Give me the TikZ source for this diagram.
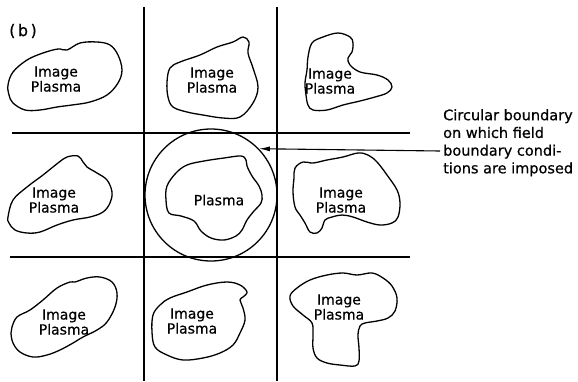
\documentclass[tikz,border=0pt]{standalone}
\usepackage{fontspec}
\setmainfont{DejaVu Sans}[FakeBold=0.6]
\usetikzlibrary{arrows.meta}
\begin{document}
\begin{tikzpicture}[x=1pt,y=-1pt,>={Latex[length=11pt,width=5pt]},
  blob/.style={line width=1.3pt, line join=round},
  gridline/.style={line width=1.3pt},
  plasmatext/.style={align=center, inner sep=0pt, font=\fontsize{14}{15}\selectfont}]
\useasboundingbox (0,0) rectangle (578,381);
% grid of cells
\draw[gridline] (144,7) -- (144,381);
\draw[gridline] (277,7) -- (277,381);
\draw[gridline] (12,133) -- (410,133);
\draw[gridline] (10,257) -- (410,257);
\node[plasmatext, font=\fontsize{16}{17}\selectfont] (tag) at (23,31) {(\hspace{2.5pt}b\hspace{2.5pt})};
% image plasmas
\draw[blob] plot[smooth cycle, tension=0.6] coordinates {(8,85) (13,72) (27,60) (43,53) (58,49) (67,50) (80,43) (97,42) (110,45) (118,55) (122,70) (118,83) (107,95) (90,102) (72,105) (57,107) (40,110) (25,110) (13,103) (9,95)};
\node[plasmatext] (p1) at (56,79) {Image\\Plasma};
\draw[blob] plot[smooth cycle, tension=0.6] coordinates {(167,82) (170,68) (180,62) (200,55) (217,47) (233,42) (243,37) (249,42) (248,53) (253,68) (258,87) (253,103) (240,117) (223,118) (203,115) (187,112) (173,107) (168,97)};
\node[plasmatext] (p2) at (212,80) {Image\\Plasma};
\draw[blob] plot[smooth cycle, tension=0.6] coordinates {(312,43) (323,37) (338,33) (350,37) (353,43) (352,52) (348,58) (350,65) (360,72) (377,75) (388,80) (392,87) (387,93) (375,97) (360,101) (343,105) (327,110) (313,110) (308,105) (306,95) (305,83) (307,70) (308,57)};
\node[plasmatext] (p3) at (330,81) {Image\\Plasma};
\draw[blob] plot[smooth cycle, tension=0.6] coordinates {(8,217) (13,200) (27,187) (43,175) (58,163) (67,157) (78,156) (83,162) (87,167) (97,173) (107,180) (112,192) (110,203) (103,212) (90,217) (73,220) (57,225) (40,232) (27,233) (15,230) (9,223)};
\node[plasmatext] (p4) at (54,200) {Image\\Plasma};
% real plasma inside the boundary
\node[draw, circle, minimum size=132pt, inner sep=0pt, line width=1.3pt] (bound) at (211,195) {};
\draw[blob] plot[smooth cycle, tension=0.6] coordinates {(166,200) (167,186) (176,173) (187,165) (204,161) (224,158) (241,156) (246,160) (247,166) (252,176) (259,186) (262,195) (261,203) (254,211) (247,220) (242,230) (236,236) (224,240) (211,238) (201,231) (194,221) (181,216) (169,213)};
\node[plasmatext] (p5) at (219,200) {Plasma};
\draw[blob] plot[smooth cycle, tension=0.6] coordinates {(295,168) (303,162) (313,163) (327,160) (343,157) (358,153) (368,155) (377,162) (387,175) (397,190) (400,203) (398,217) (392,223) (380,225) (367,222) (353,217) (342,215) (332,217) (325,220) (322,228) (317,233) (310,232) (305,223) (300,215) (295,207) (293,192) (294,178)};
\node[plasmatext] (p6) at (341,200) {Image\\Plasma};
\draw[blob] plot[smooth cycle, tension=0.6] coordinates {(12,327) (17,317) (30,310) (43,300) (57,288) (70,282) (75,282) (87,278) (100,277) (112,282) (117,293) (115,307) (107,322) (97,330) (83,337) (73,343) (60,350) (47,355) (33,357) (20,352) (13,343) (11,333)};
\node[plasmatext] (p7) at (64,322) {Image\\Plasma};
\draw[blob] plot[smooth cycle, tension=0.6] coordinates {(152,332) (153,315) (160,305) (170,298) (187,292) (207,285) (227,282) (240,285) (247,292) (243,297) (240,300) (243,308) (245,320) (240,333) (233,345) (220,353) (203,358) (183,360) (167,355) (155,347)};
\node[plasmatext] (p8) at (192,321) {Image\\Plasma};
\draw[blob] plot[smooth cycle, tension=0.6] coordinates {(290,296) (297,288) (310,280) (327,275) (343,273) (357,275) (372,273) (383,278) (392,286) (397,298) (395,311) (388,318) (377,321) (365,323) (360,326) (358,335) (359,348) (359,361) (355,366) (340,365) (327,363) (317,358) (313,348) (313,335) (312,323) (303,315) (293,306)};
\node[plasmatext] (p9) at (339,307) {Image\\Plasma};
% note and pointer
\node[align=left, inner sep=0pt, anchor=north west, font=\fontsize{14.5}{17.7}\selectfont] (note) at (443,109) {Circular boundary\\on which field\\boundary condi-\\tions are imposed};
\coordinate (tail) at (440,151);
\draw[->, line width=1.1pt] (tail) -- (bound.44);
\end{tikzpicture}
\end{document}
